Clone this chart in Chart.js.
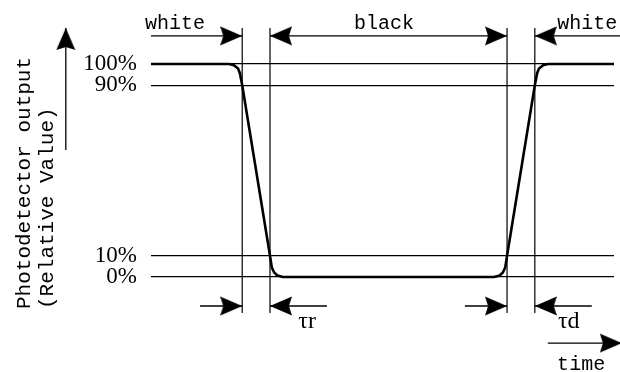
<!DOCTYPE html>
<html>
<head>
<meta charset="utf-8">
<script src="https://cdn.jsdelivr.net/npm/chart.js@4/dist/chart.umd.min.js"></script>
<style>
  html, body { margin: 0; padding: 0; background: #fff; }
  #wrap { width: 620px; height: 372px; }
</style>
</head>
<body>
<div id="wrap"><canvas id="chart"></canvas></div>
<script>
// photodetector output (%) against time (arbitrary units)
const fallTime = [0, 16.9, 17.9, 18.8, 19.2, 19.7, 25.7, 26.1, 26.6, 27.3, 28.5];
const fallLevel = [100, 100, 99.4, 97.9, 95.7, 90, 10, 4.4, 2.1, 0.7, 0];
const riseTime = [74.1, 75.3, 76.0, 76.5, 76.9, 82.9, 83.4, 83.8, 84.7, 85.7, 100];
const riseLevel = [0, 0.7, 2.1, 4.4, 10, 90, 95.7, 97.9, 99.4, 100, 100];

const refLevels = [0, 10, 90, 100];
const markerTimes = [19.7, 25.7, 76.9, 82.9];
const markerSpan = [-16.9, 116.9];

// arrows: start/end in data units, head rotation per end (null = no head)
const arrows = [
    { x: [0, 19.7], y: [113.2, 113.2], head: [null, 0] },
    { x: [25.7, 76.9], y: [113.2, 113.2], head: [180, 0] },
    { x: [82.9, 101.3], y: [113.2, 113.2], head: [180, null] },
    { x: [10.6, 19.7], y: [-13.6, -13.6], head: [null, 0] },
    { x: [25.7, 38.0], y: [-13.6, -13.6], head: [180, null] },
    { x: [67.8, 76.9], y: [-13.6, -13.6], head: [null, 0] },
    { x: [82.9, 95.2], y: [-13.6, -13.6], head: [180, null] },
    { x: [85.7, 101.7], y: [-31, -31], head: [null, 0] },
    { x: [-18.4, -18.4], y: [59.6, 116.9], head: [null, -90] }
];

const notes = ['white', 'black', 'white', 'τr', 'τd', 'time'];
const noteTime = [5.2, 50.3, 94.2, 31.8, 87.9, 92.9];
const noteLevel = [116.3, 116.3, 116.3, -23.7, -24.1, -43.7];

const MONO = '"Liberation Mono", "DejaVu Sans Mono", monospace';
const SERIF = '"Liberation Serif", "DejaVu Serif", serif';

// arrowhead sprite, tip at the centre so the point sits on the tip
const headImg = document.createElement('canvas');
headImg.width = 44;
headImg.height = 20;
(function () {
    const c = headImg.getContext('2d');
    c.fillStyle = '#000';
    c.beginPath();
    c.moveTo(0, 0.5);
    c.lineTo(22, 10);
    c.lineTo(0, 19.5);
    c.lineTo(3, 10);
    c.closePath();
    c.fill();
})();

function pts(xs, ys) {
    return xs.map((x, i) => ({ x: x, y: ys[i] }));
}

const datasets = [];

datasets.push({
    data: pts(fallTime.concat(riseTime), fallLevel.concat(riseLevel)),
    borderColor: '#000',
    borderWidth: 2.6,
    pointRadius: 0,
    showLine: true,
    tension: 0,
    clip: false
});

markerTimes.forEach(t => {
    datasets.push({
        data: pts([t, t], markerSpan),
        borderColor: '#000',
        borderWidth: 1.2,
        pointRadius: 0,
        showLine: true,
        clip: false
    });
});

arrows.forEach(a => {
    // empty points at both ends keep the big head radius out of the layout padding;
    // their x is out of order on purpose so every point is always drawn
    const data = [{ x: 1000, y: null }].concat(pts(a.x, a.y), [{ x: 1000, y: null }]);
    const heads = [null].concat(a.head, [null]);
    datasets.push({
        data: data,
        borderColor: '#000',
        borderWidth: 1.3,
        showLine: true,
        clip: false,
        pointStyle: heads.map(h => h === null ? 'circle' : headImg),
        pointRotation: heads.map(h => h || 0),
        // big radius only widens the in-area test, the sprite keeps its size
        pointRadius: heads.map(h => h === null ? 0 : 100)
    });
});

const notesPlugin = {
    id: 'notes',
    afterDatasetsDraw(chart) {
        const ctx = chart.ctx;
        const xs = chart.scales.x, ys = chart.scales.y;
        ctx.save();
        ctx.fillStyle = '#000';
        ctx.textBaseline = 'alphabetic';
        notes.forEach((txt, i) => {
            const tau = txt.startsWith('τ');
            ctx.font = tau ? '24px ' + SERIF : '20px ' + MONO;
            ctx.textAlign = tau ? 'left' : 'center';
            ctx.fillText(txt, xs.getPixelForValue(noteTime[i]), ys.getPixelForValue(noteLevel[i]));
        });
        ctx.restore();
    }
};

new Chart(document.getElementById('chart').getContext('2d'), {
    type: 'scatter',
    data: { datasets: datasets },
    options: {
        responsive: true,
        maintainAspectRatio: false,
        animation: false,
        events: [],
        layout: {
            padding: { left: 0, right: 6, top: 21.4, bottom: 63 }
        },
        scales: {
            x: {
                type: 'linear',
                min: 0,
                max: 100,
                display: false
            },
            y: {
                type: 'linear',
                min: -15,
                max: 120,
                afterBuildTicks: (scale) => {
                    scale.ticks = refLevels.map(v => ({ value: v }));
                },
                afterFit: (scale) => {
                    scale.width = 151;
                    scale.paddingTop = 0;
                    scale.paddingBottom = 0;
                },
                ticks: {
                    color: '#000',
                    padding: 14,
                    font: { family: SERIF, size: 23 },
                    callback: (v) => v + '%'
                },
                grid: {
                    color: '#000',
                    lineWidth: 1.2,
                    drawTicks: false
                },
                border: { display: false },
                title: {
                    display: true,
                    text: ['Photodetector output', '(Relative Value)'],
                    align: 'start',
                    color: '#000',
                    padding: { top: 13, bottom: 0 },
                    font: { family: MONO, size: 21, lineHeight: 1.1 }
                }
            }
        },
        plugins: {
            legend: { display: false },
            tooltip: { enabled: false }
        }
    },
    plugins: [notesPlugin]
});
</script>
</body>
</html>
